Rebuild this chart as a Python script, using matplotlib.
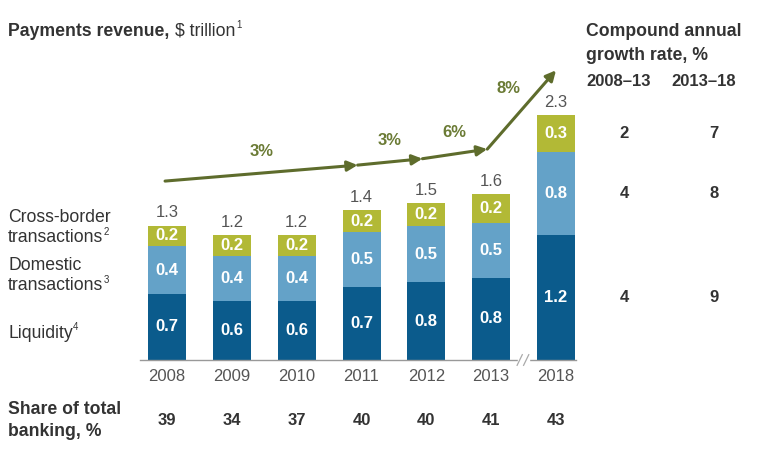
import matplotlib
matplotlib.use('Agg')
import matplotlib.pyplot as plt
import numpy as np

years = ['2008', '2009', '2010', '2011', '2012', '2013', '2018']
liquidity = [0.62, 0.55, 0.55, 0.69, 0.73, 0.77, 1.17]
domestic = [0.45, 0.43, 0.43, 0.51, 0.53, 0.52, 0.78]
cross_border = [0.19, 0.19, 0.19, 0.21, 0.21, 0.27, 0.35]
liquidity_lbl = ['0.7', '0.6', '0.6', '0.7', '0.8', '0.8', '1.2']
domestic_lbl = ['0.4', '0.4', '0.4', '0.5', '0.5', '0.5', '0.8']
cross_lbl = ['0.2', '0.2', '0.2', '0.2', '0.2', '0.2', '0.3']
total_lbl = ['1.3', '1.2', '1.2', '1.4', '1.5', '1.6', '2.3']
share = [39, 34, 37, 40, 40, 41, 43]
# growth arrow: bar indexes the arrow passes over, and the labels per leg
growth_idx = [0, 3, 4, 5, 6]
growth_lbl = ['3%', '3%', '6%', '8%']
# CAGR column: cross-border, domestic, liquidity
cagr_0813 = ['2', '4', '4']
cagr_1318 = ['7', '8', '9']

C_LIQ = '#0b5b8c'
C_DOM = '#64a2c8'
C_CROSS = '#b2b936'
C_ARROW = '#5e6c2c'
C_TXT = '#333333'
C_GREY = '#555555'
FS = 12      # numbers
FS_T = 12.7  # text labels

plt.rcParams['font.family'] = ['Liberation Sans', 'DejaVu Sans']

W, H = 758, 450
fig = plt.figure(figsize=(W / 100, H / 100), dpi=100)
ax = fig.add_axes([0, 0, 1, 1])
ax.axis('off')

# pixel layout: first bar centre at 167 px, last at 556 px, baseline at 360 px
x0, dx = 167, (556 - 167) / 6
y0, dy = 360, 106.5
ax.set_xlim(-x0 / dx, (W - x0) / dx)
ax.set_ylim((y0 - H) / dy, y0 / dy)
fig.canvas.draw()
renderer = fig.canvas.get_renderer()


def fx(px):
    return px / W


def fy(py):
    return 1 - py / H


def label(px, py, main, sup=None, weight='normal', color=C_TXT):
    t = fig.text(fx(px), fy(py), main, color=color, fontsize=FS_T,
                 fontweight=weight, va='center')
    if sup:
        bb = t.get_window_extent(renderer)
        fig.text((bb.x1 + 0.5) / W, fy(py - 6), sup, color=color,
                 fontsize=FS_T * 0.55, va='center')
    return t


x = np.arange(len(years))
liq = np.array(liquidity)
dom = np.array(domestic)
cro = np.array(cross_border)
tot = liq + dom + cro
bw = 38 / dx

ax.bar(x, liq, bw, color=C_LIQ)
ax.bar(x, dom, bw, bottom=liq, color=C_DOM)
ax.bar(x, cro, bw, bottom=liq + dom, color=C_CROSS)

for i in x:
    ax.text(i, liq[i] / 2, liquidity_lbl[i], color='white', fontsize=FS,
            fontweight='bold', ha='center', va='center')
    ax.text(i, liq[i] + dom[i] / 2, domestic_lbl[i], color='white', fontsize=FS,
            fontweight='bold', ha='center', va='center')
    ax.text(i, liq[i] + dom[i] + cro[i] / 2, cross_lbl[i], color='white',
            fontsize=FS, fontweight='bold', ha='center', va='center')
    ax.text(i, tot[i] + 0.05, total_lbl[i], color=C_GREY, fontsize=FS,
            ha='center', va='bottom')
    ax.text(i, -0.155, years[i], color=C_GREY, fontsize=FS,
            ha='center', va='center')
    ax.text(i, -0.57, str(share[i]), color=C_TXT, fontsize=FS,
            fontweight='bold', ha='center', va='center')

# baseline with break mark
ax.plot([-0.42, 6.31], [0, 0], color='#999999', lw=1)
ax.add_patch(plt.Rectangle((5.42, -0.03), 0.16, 0.06, color='white', zorder=3))
for bx in (5.44, 5.54):
    ax.plot([bx - 0.04, bx + 0.04], [-0.05, 0.05], color='#aaaaaa', lw=0.9, zorder=4)

# growth arrow
ax_pts = [(growth_idx[k] - (0.03 if k == 0 else 0.06 * (k < 4)),
           tot[growth_idx[k]] + 0.42) for k in range(len(growth_idx))]
for k in range(len(growth_lbl)):
    (xa, ya), (xb, yb) = ax_pts[k], ax_pts[k + 1]
    ax.annotate('', xy=(xb, yb), xytext=(xa, ya),
                arrowprops=dict(arrowstyle='-|>', color=C_ARROW, lw=2.2,
                                mutation_scale=15, shrinkA=0, shrinkB=0))
    shift = -0.2 if k == 3 else 0
    ax.text((xa + xb) / 2 + shift, (ya + yb) / 2 + 0.2, growth_lbl[k],
            color='#6b7b35', fontsize=FS, fontweight='bold',
            ha='center', va='center')

# title
t = label(8, 31, 'Payments revenue,', weight='bold')
bb = t.get_window_extent(renderer)
label((bb.x1 + 6), 31, '$ trillion', sup='1')

# left legend labels
label(8, 217, 'Cross-border')
label(8, 238, 'transactions', sup='2')
label(8, 266, 'Domestic')
label(8, 286, 'transactions', sup='3')
label(8, 333, 'Liquidity', sup='4')

# share row label
label(8, 410, 'Share of total', weight='bold')
label(8, 432, 'banking, %', weight='bold')

# CAGR column
label(586, 32, 'Compound annual', weight='bold')
label(586, 55, 'growth rate, %', weight='bold')
fig.text(fx(619), fy(81), '2008–13', color=C_TXT, fontsize=FS,
         fontweight='bold', va='center', ha='center')
fig.text(fx(704), fy(81), '2013–18', color=C_TXT, fontsize=FS,
         fontweight='bold', va='center', ha='center')
last = len(years) - 1
seg_mid = [liq[last] + dom[last] + cro[last] / 2, liq[last] + dom[last] / 2,
           liq[last] / 2]
for k in range(3):
    ax.text((624 - x0) / dx, seg_mid[k], cagr_0813[k], color=C_TXT,
            fontsize=FS, fontweight='bold', ha='center', va='center')
    ax.text((714 - x0) / dx, seg_mid[k], cagr_1318[k], color=C_TXT,
            fontsize=FS, fontweight='bold', ha='center', va='center')

fig.savefig('out.png', dpi=100, facecolor='white')
